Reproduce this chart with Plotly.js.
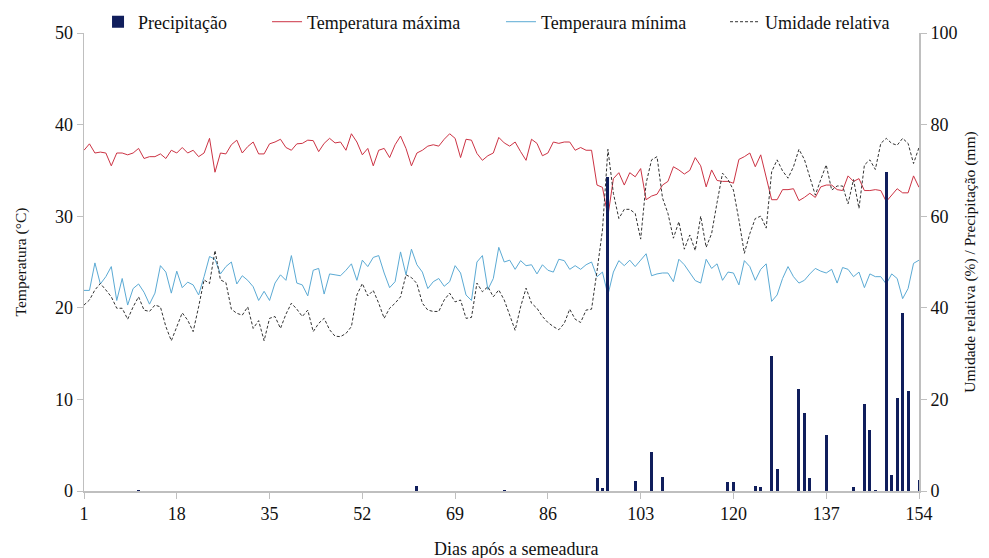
<!DOCTYPE html>
<html>
<head>
<meta charset="utf-8">
<script src="https://cdn.plot.ly/plotly-3.0.1.min.js"></script>
<style>html,body{margin:0;padding:0;background:#fff}#chart{width:989px;height:558px}</style>
</head>
<body>
<div id="chart"></div>
<script>
// Days after sowing
const days = Array.from({length: 154}, (_, i) => i + 1);
const xTickVals = [1, 18, 35, 52, 69, 86, 103, 120, 137, 154];

// Temperatura máxima (°C)
const tempMax = [
  37.2, 37.9, 36.9, 37.0, 36.9, 35.5, 36.9, 36.9, 36.7, 36.9,
  37.4, 36.3, 36.5, 36.5, 36.8, 36.3, 37.2, 36.9, 37.5, 36.9,
  37.2, 36.5, 36.9, 38.5, 34.8, 36.9, 36.8, 37.8, 38.3, 36.9,
  37.6, 38.1, 36.8, 36.8, 37.9, 38.1, 38.4, 37.5, 37.2, 37.9,
  37.95, 38.3, 38.25, 37.05, 37.95, 38.5, 38.0, 38.1, 37.2, 39.0,
  38.1, 36.7, 37.4, 35.5, 37.2, 37.4, 36.4, 37.8, 38.75, 37.4,
  35.5, 36.9, 37.2, 37.65, 37.8, 37.65, 38.4, 39.0, 38.5, 36.4,
  38.4, 38.3, 36.85, 36.1, 36.6, 36.9, 38.6, 38.0, 37.65, 38.1,
  37.05, 36.1, 38.4, 37.95, 36.6, 36.9, 38.1, 37.95, 38.1, 38.1,
  37.2, 37.5, 37.2, 37.2, 33.4, 33.15, 30.0, 34.1, 34.75, 33.4,
  34.75, 34.3, 35.2, 31.8, 32.2, 32.4, 33.4, 33.8, 35.4, 35.05,
  34.6, 35.0, 36.4, 35.5, 33.2, 35.05, 33.9, 33.8, 33.8, 33.6,
  36.2, 36.5, 36.9, 35.4, 36.7, 34.3, 31.8, 31.8, 32.9, 32.9,
  33.0, 31.7, 32.05, 32.5, 32.05, 33.2, 33.4, 33.4, 32.9, 32.8,
  34.4, 33.8, 34.1, 32.8, 32.8, 32.9, 32.8, 31.6, 32.3, 33.0,
  32.55, 32.55, 34.4, 33.15
];

// Temperaura mínima (°C)
const tempMin = [
  21.9, 21.9, 24.9, 22.6, 23.4, 24.5, 20.8, 23.2, 20.3, 22.1,
  22.6, 21.7, 20.4, 21.6, 24.6, 23.9, 21.6, 24.0, 22.2, 22.8,
  22.5, 21.4, 23.4, 25.6, 25.3, 23.7, 24.5, 25.0, 22.6, 23.5,
  23.0, 22.3, 20.8, 21.8, 20.8, 22.7, 23.6, 23.0, 25.7, 22.7,
  22.5, 21.3, 24.1, 24.3, 21.5, 23.7, 23.6, 23.5, 24.1, 24.8,
  23.0, 25.2, 24.5, 25.5, 25.7, 23.8, 22.2, 22.85, 26.1, 23.6,
  26.4, 24.7, 23.9, 22.1, 22.85, 23.2, 22.35, 22.85, 24.6, 23.8,
  21.4, 20.8, 25.0, 25.7, 22.0, 23.2, 26.6, 25.0, 25.2, 24.2,
  25.15, 24.6, 24.7, 23.7, 24.7, 24.1, 23.9, 25.3, 25.15, 24.2,
  24.6, 24.2, 24.7, 25.0, 23.4, 23.9, 21.4, 23.9, 25.15, 24.6,
  25.2, 24.5, 25.2, 25.9, 23.5, 23.7, 23.8, 23.8, 22.85, 25.3,
  24.7, 23.8, 22.97, 22.7, 25.3, 24.3, 24.8, 23.0, 23.9, 23.8,
  22.5, 25.15, 24.5, 23.0, 24.2, 24.8, 20.7, 21.4, 23.2, 24.5,
  23.4, 22.7, 23.0, 23.7, 24.3, 24.0, 23.8, 24.2, 22.7, 24.4,
  24.2, 23.4, 23.9, 22.2, 23.7, 23.4, 23.4, 22.6, 23.7, 23.2,
  21.0, 22.1, 24.85, 25.2
];

// Umidade relativa (%)
const humidity = [
  40.6, 41.7, 43.9, 45.3, 43.9, 42.4, 39.9, 39.9, 37.5, 40.2,
  42.4, 39.5, 39.2, 40.6, 40.2, 35.9, 32.8, 35.9, 38.9, 37.3,
  34.8, 40.2, 46.1, 45.3, 52.5, 46.1, 45.5, 39.7, 38.8, 38.4,
  40.2, 35.5, 37.2, 32.8, 37.7, 38.1, 35.5, 38.6, 41.0, 39.7,
  38.1, 39.5, 34.8, 36.6, 37.7, 35.2, 33.8, 33.7, 34.4, 35.9,
  42.8, 45.3, 42.6, 43.8, 41.0, 37.7, 39.9, 41.0, 42.4, 47.2,
  46.6, 45.3, 41.0, 39.5, 39.2, 39.2, 41.7, 43.2, 41.3, 41.7,
  37.7, 37.9, 45.4, 43.5, 44.6, 42.4, 43.9, 41.7, 38.4, 35.1,
  40.2, 44.3, 41.0, 39.9, 38.1, 36.8, 35.9, 35.2, 36.6, 39.7,
  37.5, 36.8, 39.5, 39.7, 48.0, 57.0, 74.6, 65.0, 59.5, 61.5,
  61.5, 60.6, 55.0, 67.2, 72.3, 73.0, 64.0, 60.6, 55.2, 58.8,
  52.8, 55.9, 52.5, 60.0, 53.2, 56.2, 63.0, 69.4, 68.0, 65.7,
  59.2, 51.9, 56.2, 59.5, 60.0, 57.4, 69.7, 72.3, 69.9, 68.3,
  70.8, 74.6, 72.4, 68.6, 64.6, 68.0, 71.2, 65.7, 66.6, 66.6,
  62.7, 68.0, 61.7, 71.2, 72.3, 70.2, 75.9, 77.0, 75.9, 75.5,
  77.0, 75.9, 71.5, 75.0
];

// Precipitação (mm) - only the days with rain
const precipDays   = [11, 62, 78, 95, 96, 97, 102, 105, 107, 119, 120, 124, 125, 127, 128, 132, 133, 134, 137, 142, 144, 145, 146, 148, 149, 150, 151, 152, 154];
const precipValues = [0.3, 1.1, 0.3, 2.8, 0.7, 68.6, 2.2, 8.6, 3.0, 2.0, 2.0, 1.0, 0.9, 29.5, 4.7, 22.2, 17.0, 2.8, 12.2, 0.8, 19.0, 13.3, 0.3, 69.6, 3.5, 20.2, 38.8, 21.9, 2.5];

const FONT = 'Liberation Serif';
const AXIS = '#bfbfbf';
const TXT = '#111';

const traces = [
  {
    type: 'scatter', mode: 'lines', name: 'Temperatura máxima',
    x: days, y: tempMax, yaxis: 'y',
    line: {color: '#CC3344', width: 1}, legend: 'legend2'
  },
  {
    type: 'scatter', mode: 'lines', name: 'Temperaura mínima',
    x: days, y: tempMin, yaxis: 'y',
    line: {color: '#5BAAD4', width: 1}, legend: 'legend3'
  },
  {
    type: 'bar', name: 'Precipitação',
    x: precipDays, y: precipValues, yaxis: 'y2',
    width: 0.55,
    marker: {color: '#101E5C', line: {width: 0}}, legend: 'legend'
  },
  {
    type: 'scatter', mode: 'lines', name: 'Umidade relativa',
    x: days, y: humidity, yaxis: 'y2',
    line: {color: '#333333', width: 1, dash: '3px,2px'}, legend: 'legend4'
  }
];

function leg(xp) {
  return {orientation: 'h', x: xp, xanchor: 'left', y: 1.024, yanchor: 'middle',
          font: {family: FONT, size: 18, color: TXT}, bgcolor: 'rgba(0,0,0,0)'};
}

const layout = {
  width: 989, height: 558,
  margin: {l: 84, r: 70, t: 33, b: 67, autoexpand: false},
  paper_bgcolor: '#fff', plot_bgcolor: '#fff',
  font: {family: FONT, size: 18, color: TXT},
  showlegend: true,
  legend: leg(0.0168),
  legend2: leg(0.2192),
  legend3: leg(0.4994),
  legend4: leg(0.7677),
  bargap: 0,
  xaxis: {
    range: [1, 154], tickvals: xTickVals, ticktext: xTickVals.map(String),
    showgrid: false, zeroline: false, showline: true, linecolor: AXIS, linewidth: 1.5,
    ticks: 'outside', ticklen: 6, tickcolor: AXIS,
    tickfont: {family: FONT, size: 18, color: TXT}
  },
  yaxis: {
    range: [0, 50], tickvals: [0, 10, 20, 30, 40, 50],
    showgrid: false, zeroline: false, showline: true, linecolor: AXIS, linewidth: 1.5,
    ticks: 'outside', ticklen: 6, tickcolor: AXIS,
    tickfont: {family: FONT, size: 18, color: TXT},
    title: {text: 'Temperatura (°C)', font: {family: FONT, size: 15.5, color: TXT}, standoff: 24}
  },
  yaxis2: {
    range: [0, 100], tickvals: [0, 20, 40, 60, 80, 100], overlaying: 'y', side: 'right',
    showgrid: false, zeroline: false, showline: true, linecolor: AXIS, linewidth: 2,
    ticks: 'outside', ticklen: 6, tickcolor: AXIS,
    tickfont: {family: FONT, size: 18, color: TXT},
    title: {text: 'Umidade relativa (%) / Precipitação (mm)', font: {family: FONT, size: 15.5, color: TXT}, standoff: 8}
  },
  annotations: [{
    text: 'Dias após a semeadura', xref: 'paper', yref: 'paper',
    x: 0.517, y: -0.1266, xanchor: 'center', yanchor: 'middle', showarrow: false,
    font: {family: FONT, size: 18, color: TXT}
  }]
};

Plotly.newPlot('chart', traces, layout, {displayModeBar: false, staticPlot: true});
</script>
</body>
</html>
